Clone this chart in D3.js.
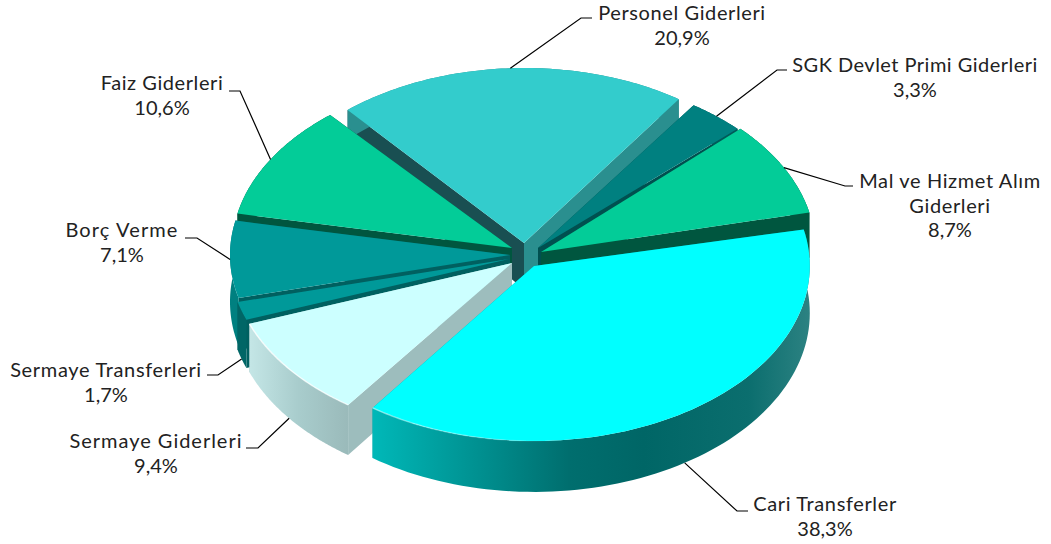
<!DOCTYPE html>
<html>
<head>
<meta charset="utf-8">
<script src="https://cdn.jsdelivr.net/npm/d3@7"></script>
<style>
  html, body { margin: 0; padding: 0; background: #fff; }
  svg { display: block; }
  text { font-family: Lato, sans-serif; font-size: 20px; fill: #222; text-anchor: middle; }
</style>
</head>
<body>
<div id="chart"></div>
<script>
// Data, clockwise starting with the top slice
const categories = ['Personel Giderleri', 'SGK Devlet Primi Giderleri', 'Mal ve Hizmet Alım Giderleri', 'Cari Transferler',
  'Sermaye Giderleri', 'Sermaye Transferleri', 'Borç Verme', 'Faiz Giderleri'];
const values = [20.9, 3.3, 8.7, 38.3, 9.4, 1.7, 7.1, 10.6];
const labelLines = [['Personel Giderleri'], ['SGK Devlet Primi Giderleri'], ['Mal ve Hizmet Alım', 'Giderleri'], ['Cari Transferler'],
  ['Sermaye Giderleri'], ['Sermaye Transferleri'], ['Borç Verme'], ['Faiz Giderleri']];

// Colours
const topColors = ['#33CCCC', '#008080', '#03CC98', '#00FFFF', '#CCFFFF', '#009999', '#009999', '#03CC98'];
const startWall = ['#194F52', '#005050', '#00563F', '#008080', '#9DBDBD', '#006060', '#006060', '#00563F'];
const endWall = ['#2A8F8F', '#005050', '#00563F', '#00A0A0', '#9DBDBD', '#006060', '#006060', '#00563F'];
const rimStops = [
  ['#2A8F8F', '#2A8F8F'], ['#005A5A', '#005A5A'], ['#00563F', '#00563F'],
  ['#00B8B8', '#006E6E', '#006666', '#0B6E6E', '#2C8282'],
  ['#C4E6E6', '#A8CCCC', '#9ABABA'],
  ['#006666', '#006666'], ['#008080', '#008080'], ['#00563F', '#00563F']
];

// Layout
const width = 1051;
const height = 544;
const rx = 280;
const ry = 175;
const startDeg = -40.5;
const center = [521, 254];
// how far each slice has been pulled out of the centre
const explode = [[3, -11], [13, -5], [20, -5], [13, 12], [-9, 9], [-12, 5], [-11, 1], [-9, -6]];
const tipShift = [[0, 0], [4, -1], [0, 3], [0, 0], [0, 0], [0, 0], [0, 0], [0, 0]];
const widthScale = [0.97, 1, 0.98, 0.985, 1, 1, 1, 1];
// back to front; the top slice goes first, its neighbours overlap its cut faces
const paintOrder = [0, 1, 2, 7, 6, 5, 4, 3];
const leaderElbows = [[581, 18, 592], [777, 70, 787], [845, 186, 853], [737, 511, 748], [258, 448, 246], [218, 375, 207], [197, 238, 185], [240, 91, 229]];
const labelAnchors = [[682, 20], [915, 72], [950, 188], [825, 511], [156, 448], [106, 377], [122, 237], [162, 90]];
const labelWidths = [167, 245, 181, 143, 172, 191, 112, 122];
const lineGap = 24.6;

const svg = d3.select('#chart').append('svg').attr('width', width).attr('height', height);
const defs = svg.append('defs');

const angle = d3.scaleLinear().domain([0, 360]).range([0, 2 * Math.PI]);
const slices = d3.pie().sort(null).startAngle(angle(startDeg)).endAngle(angle(startDeg + 360))(values);

// wall gets taller towards the viewer
const depth = d3.scaleLinear().domain([100, 215, 445]).range([28, 46, 51]);
const lineGen = d3.line();

const rimPoint = (i, a) => [
  center[0] + explode[i][0] + rx * widthScale[i] * Math.sin(a),
  center[1] + explode[i][1] - ry * Math.cos(a)
];
const apex = (i) => [center[0] + explode[i][0] + tipShift[i][0], center[1] + explode[i][1] + tipShift[i][1]];
const drop = (p) => [p[0], p[1] + depth(p[1])];
const arcPoints = (i, a0, a1) => d3.range(0, 81).map((k) => rimPoint(i, a0 + (a1 - a0) * k / 80));

const chart = svg.append('g');

paintOrder.forEach((i) => {
  const s = slices[i];
  const arc = arcPoints(i, s.startAngle, s.endAngle);
  const tip = apex(i);
  const g = chart.append('g').attr('class', 'slice');

  // cut faces
  const cutFace = (edge, fill) => g.append('path')
    .attr('d', lineGen([tip, edge, drop(edge), drop(tip)]) + 'Z')
    .attr('fill', fill);
  cutFace(arc[0], startWall[i]);
  cutFace(arc[arc.length - 1], endWall[i]);

  // outer wall, shaded across its width
  const stops = rimStops[i];
  const xs = d3.extent(arc, (d) => d[0]);
  const gradId = `rim-${i}`;
  const grad = defs.append('linearGradient').attr('id', gradId)
    .attr('gradientUnits', 'userSpaceOnUse')
    .attr('x1', xs[0]).attr('x2', xs[1]).attr('y1', 0).attr('y2', 0);
  const offsets = i === 3 ? [0, 0.45, 0.62, 0.86, 1] : stops.map((d, k) => k / (stops.length - 1));
  stops.forEach((c, k) => grad.append('stop').attr('offset', offsets[k]).attr('stop-color', c));
  g.append('path')
    .attr('d', lineGen(arc.concat(arc.map(drop).reverse())) + 'Z')
    .attr('fill', `url(#${gradId})`);

  // top face
  g.append('path')
    .attr('d', lineGen([tip].concat(arc)) + 'Z')
    .attr('fill', topColors[i]);
});

// highlight along the front rims
const glintDef = defs.append('linearGradient').attr('id', 'glint')
  .attr('gradientUnits', 'userSpaceOnUse')
  .attr('x1', 240).attr('x2', 560).attr('y1', 0).attr('y2', 0);
glintDef.append('stop').attr('offset', 0).attr('stop-color', '#fff').attr('stop-opacity', 0.9);
glintDef.append('stop').attr('offset', 1).attr('stop-color', '#fff').attr('stop-opacity', 0);
[4, 3].forEach((i) => {
  const s = slices[i];
  const a0 = i === 3 ? s.endAngle - 1.0 : s.startAngle;
  const pts = arcPoints(i, a0, s.endAngle);
  chart.append('path')
    .attr('d', lineGen(pts))
    .attr('fill', 'none')
    .attr('stroke', 'url(#glint)')
    .attr('stroke-width', 1.4);
});

// leader lines
const leaders = svg.append('g');
slices.forEach((s, i) => {
  const mid = (s.startAngle + s.endAngle) / 2;
  let from = rimPoint(i, mid);
  if (Math.cos(mid) < -0.25) from = drop(from);
  const [ex, ey, endX] = leaderElbows[i];
  leaders.append('path')
    .attr('d', lineGen([from, [ex, ey], [endX, ey]]))
    .attr('fill', 'none')
    .attr('stroke', '#000')
    .attr('stroke-width', 1.2);
});

// labels, first line stretched to the measured width
const percent = (v) => v.toFixed(1).replace('.', ',') + '%';
slices.forEach((s, i) => {
  const text = svg.append('text');
  const nameSpans = labelLines[i].map((line, k) => text.append('tspan')
    .attr('x', labelAnchors[i][0])
    .attr('y', labelAnchors[i][1] + k * lineGap)
    .text(line));
  text.append('tspan')
    .attr('x', labelAnchors[i][0])
    .attr('y', labelAnchors[i][1] + labelLines[i].length * lineGap)
    .text(percent(values[i]));
  const first = nameSpans[0];
  const spacing = (labelWidths[i] - first.node().getComputedTextLength()) / (labelLines[i][0].length - 1);
  nameSpans.forEach((t) => t.style('letter-spacing', `${spacing}px`));
});
</script>
</body>
</html>
